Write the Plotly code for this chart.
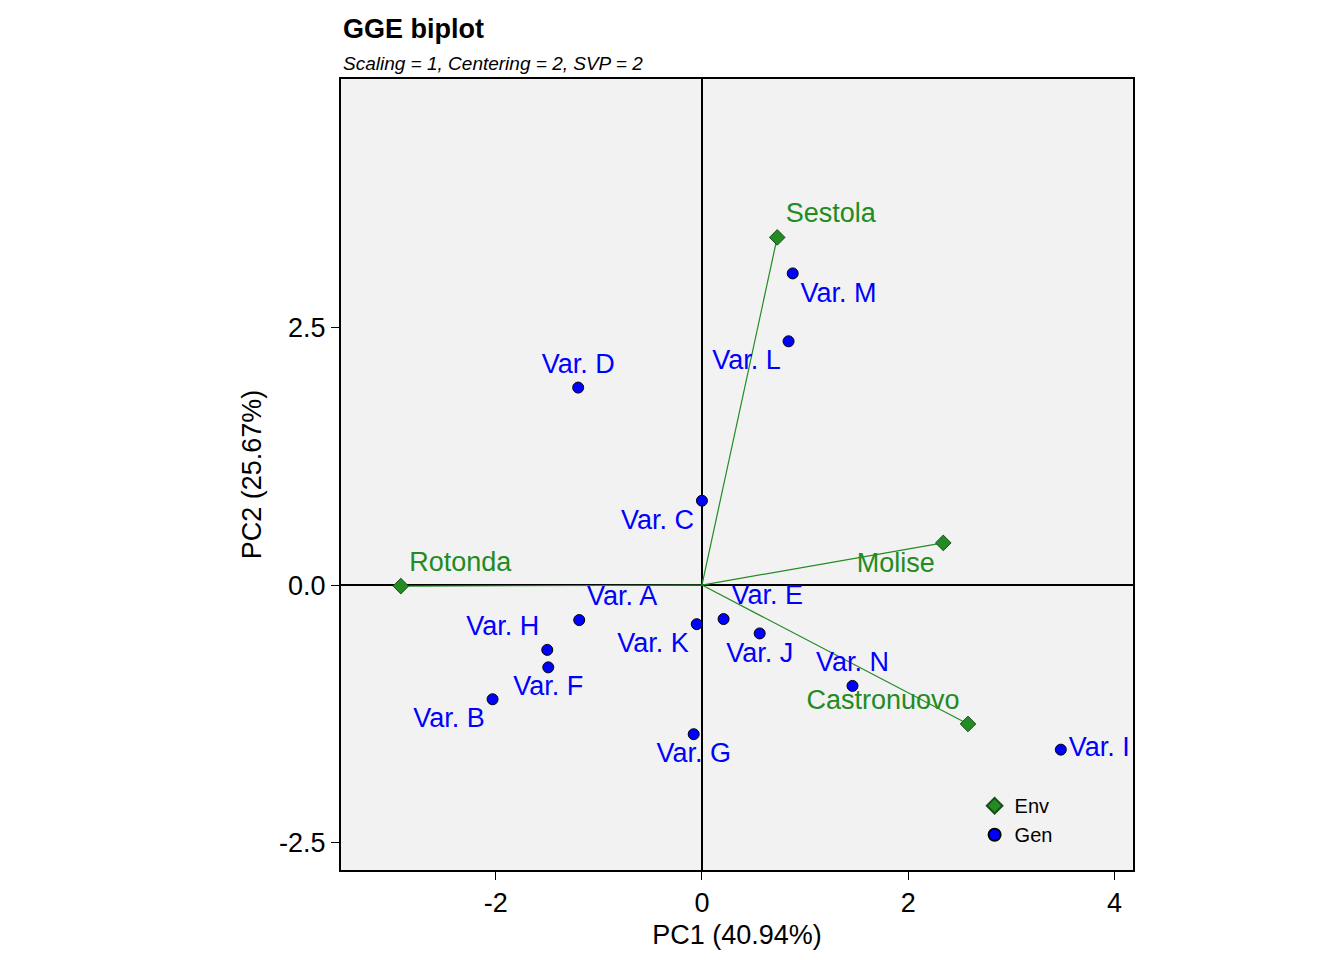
import plotly.graph_objects as go

# environments
env_names = ["Sestola", "Molise", "Castronuovo", "Rotonda"]
env_pc1 = [0.73, 2.34, 2.58, -2.92]
env_pc2 = [3.38, 0.41, -1.35, -0.01]

# genotypes
gen_names = ["Var. M", "Var. L", "Var. D", "Var. C", "Var. A", "Var. E", "Var. K",
             "Var. J", "Var. H", "Var. F", "Var. B", "Var. N", "Var. G", "Var. I"]
gen_pc1 = [0.88, 0.84, -1.20, 0.0, -1.19, 0.21, -0.05, 0.56, -1.50, -1.49, -2.03, 1.46, -0.08, 3.48]
gen_pc2 = [3.03, 2.37, 1.92, 0.82, -0.34, -0.33, -0.38, -0.47, -0.63, -0.80, -1.11, -0.98, -1.45, -1.60]

gen_pos = ["bottom right", "bottom left", "top center", "bottom left", "top right",
           "top right", "bottom left", "bottom center", "top left", "bottom center",
           "bottom left", "top center", "bottom center", "middle right"]
env_pos = ["top right", "bottom left", "top left", "top right"]

FONT = "Liberation Sans, Arial, sans-serif"
fig = go.Figure()

for x, y in zip(env_pc1, env_pc2):
    fig.add_trace(go.Scatter(x=[0, x], y=[0, y], mode="lines",
                             line=dict(color="forestgreen", width=1.2),
                             showlegend=False, hoverinfo="skip"))

fig.add_trace(go.Scatter(x=env_pc1, y=env_pc2, mode="markers+text", name="Env",
                         text=env_names, textposition=env_pos,
                         textfont=dict(color="forestgreen", size=27, family=FONT),
                         marker=dict(symbol="diamond", size=12, color="forestgreen",
                                     line=dict(color="#1a4d1a", width=1))))
fig.add_trace(go.Scatter(x=gen_pc1, y=gen_pc2, mode="markers+text", name="Gen",
                         text=gen_names, textposition=gen_pos,
                         textfont=dict(color="blue", size=27, family=FONT),
                         marker=dict(symbol="circle", size=11, color="blue",
                                     line=dict(color="black", width=1))))

axis_common = dict(showgrid=False, zeroline=True, zerolinecolor="black", zerolinewidth=1.5,
                   showline=True, mirror=True, linecolor="black", linewidth=2,
                   ticks="outside", ticklen=8, tickcolor="black", automargin=False,
                   tickfont=dict(size=27, color="black", family=FONT))

fig.update_layout(
    width=1344, height=960,
    margin=dict(l=333, r=219, t=71, b=98),
    paper_bgcolor="white", plot_bgcolor="#f2f2f2",
    font=dict(family=FONT, color="black"),
    xaxis=dict(range=[-3.5, 4.18], tickvals=[-2, 0, 2, 4], ticktext=["-2", "0", "2", "4"],
               title=dict(text="PC1 (40.94%)", font=dict(size=27), standoff=8), **axis_common),
    yaxis=dict(range=[-2.77, 4.92], tickvals=[-2.5, 0, 2.5], ticktext=["-2.5", "0.0", "2.5"],
               title=dict(text="PC2 (25.67%)", font=dict(size=27), standoff=10), **axis_common),
    legend=dict(x=0.8, y=0.02, xanchor="left", yanchor="bottom", bgcolor="rgba(0,0,0,0)",
                font=dict(size=20), itemsizing="constant", tracegroupgap=22),
    annotations=[
        dict(text="<b>GGE biplot</b>", xref="paper", yref="paper", x=0, y=1,
             xanchor="left", yanchor="bottom", yshift=33, showarrow=False, font=dict(size=27)),
        dict(text="<i>Scaling = 1, Centering = 2, SVP = 2</i>", xref="paper", yref="paper",
             x=0, y=1, xanchor="left", yanchor="bottom", yshift=3, showarrow=False,
             font=dict(size=19)),
    ],
)

fig.write_html("out.html")
